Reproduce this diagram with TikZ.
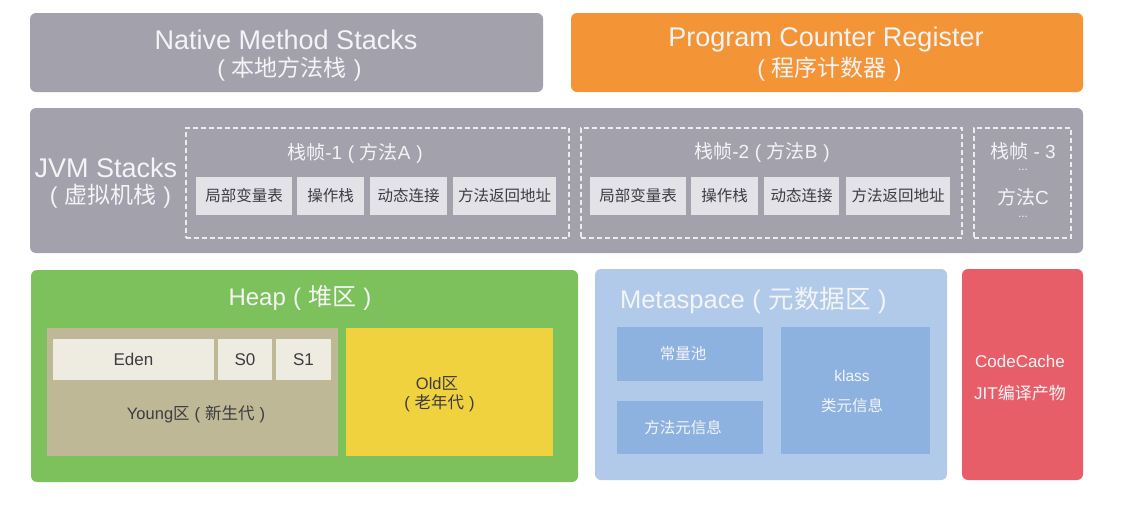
\documentclass[tikz,border=0pt]{standalone}
\usepackage{fontspec}
\setmainfont{Liberation Sans}
\newfontfamily\cjk{Noto Sans CJK SC}
\newfontfamily\lat{Liberation Sans}
\newcommand\LP{{\lat\hspace{.3em}(\hspace{.3em}}}
\newcommand\RP{{\lat\hspace{.3em})}}
\definecolor{graybg}{RGB}{162,161,172}
\definecolor{orangebg}{RGB}{243,148,54}
\definecolor{cellbg}{RGB}{226,226,231}
\definecolor{celltx}{RGB}{60,60,66}
\definecolor{dashc}{RGB}{236,236,240}
\definecolor{greenbg}{RGB}{125,193,92}
\definecolor{tanbg}{RGB}{190,184,150}
\definecolor{edenbg}{RGB}{238,235,224}
\definecolor{oldbg}{RGB}{240,210,62}
\definecolor{metabg}{RGB}{178,202,234}
\definecolor{metain}{RGB}{142,178,224}
\definecolor{redbg}{RGB}{232,94,104}
\definecolor{lighttx}{RGB}{244,244,246}
\begin{document}
\begin{tikzpicture}[x=1pt,y=-1pt,
  rbox/.style={rounded corners=6pt, inner sep=0pt, outer sep=0pt, draw=none},
  sbox/.style={inner sep=0pt, outer sep=0pt, draw=none},
  dashbox/.style={inner sep=0pt, outer sep=0pt, draw=dashc, line width=1.2pt, dash pattern=on 5pt off 3pt},
  cellbox/.style={sbox, fill=cellbg, minimum height=38pt, text=celltx, font=\cjk\fontsize{15.5}{18}\selectfont},
  lbl/.style={inner sep=0pt, outer sep=0pt, text=lighttx},
  big/.style={lbl, font=\fontsize{27}{30}\selectfont},
  bigc/.style={lbl, font=\cjk\fontsize{23}{26}\selectfont},
  ftitle/.style={lbl, font=\cjk\fontsize{19}{22}\selectfont},
  heapcell/.style={sbox, fill=edenbg, minimum height=41pt, text=celltx, font=\fontsize{17}{20}\selectfont},
  darklbl/.style={inner sep=0pt, outer sep=0pt, text=celltx, font=\fontsize{16.5}{20}\selectfont},
  metacell/.style={sbox, fill=metain},
  metalbl/.style={inner sep=0pt, outer sep=0pt, text=lighttx, font=\cjk\fontsize{15.5}{18}\selectfont}
]
\useasboundingbox (0,0) rectangle (1137,515);
\fill[white] (0,0) rectangle (1137,515);

% top row
\node[rbox, fill=graybg, minimum width=513pt, minimum height=79pt] (nms) at (286.5,52.5) {};
\node[big] (nmsA) at (286,40) {Native Method Stacks};
\node[bigc] (nmsB) at (286,69) {\LP 本地方法栈\RP};
\node[rbox, fill=orangebg, minimum width=512pt, minimum height=79pt] (pcr) at (827,52.5) {};
\node[big] (pcrA) at (826,40) {Program Counter Register};
\node[bigc] (pcrB) at (826,69) {\LP 程序计数器\RP};

% JVM stacks
\node[rbox, fill=graybg, minimum width=1053pt, minimum height=145pt] (jvm) at (556.5,180.5) {};
\node[big] (jvmA) at (106,168) {JVM Stacks};
\node[bigc] (jvmB) at (107,196) {\LP 虚拟机栈\RP};

\node[dashbox, minimum width=383pt, minimum height=110pt] (f1) at (377.5,183) {};
\node[ftitle] (f1T) at (355,153) {栈帧{\lat-1}\LP 方法{\lat A}\RP};
\node[cellbox, minimum width=96pt] (f1a) at (244,196) {局部变量表};
\node[cellbox, minimum width=67pt] (f1b) at (330.5,196) {操作栈};
\node[cellbox, minimum width=77pt] (f1c) at (408.5,196) {动态连接};
\node[cellbox, minimum width=103pt] (f1d) at (504.5,196) {方法返回地址};

\node[dashbox, minimum width=381pt, minimum height=110pt] (f2) at (771.5,183) {};
\node[ftitle] (f2T) at (762,152) {栈帧{\lat-2}\LP 方法{\lat B}\RP};
\node[cellbox, minimum width=96pt] (f2a) at (638,196) {局部变量表};
\node[cellbox, minimum width=67pt] (f2b) at (724.5,196) {操作栈};
\node[cellbox, minimum width=75pt] (f2c) at (801.5,196) {动态连接};
\node[cellbox, minimum width=104pt] (f2d) at (898,196) {方法返回地址};

\node[dashbox, minimum width=97pt, minimum height=110pt] (f3) at (1022.5,183) {};
\node[ftitle] (f3T) at (1023,151) {栈帧{\lat\ -\ 3}};
\node[lbl, font=\fontsize{12}{12}\selectfont] (f3d1) at (1023,170) {...};
\node[ftitle] (f3M) at (1023,197) {方法{\lat C}};
\node[lbl, font=\fontsize{12}{12}\selectfont] (f3d2) at (1023,217) {...};

% Heap
\node[rbox, fill=greenbg, minimum width=547pt, minimum height=212pt] (heap) at (304.5,376) {};
\node[lbl, font=\fontsize{24}{28}\selectfont] (heapT) at (300,298) {Heap{\cjk\LP 堆区\RP}};
\node[sbox, fill=tanbg, minimum width=291pt, minimum height=128pt] (young) at (192.5,392) {};
\node[heapcell, minimum width=161pt] (eden) at (133.5,359.5) {Eden};
\node[heapcell, minimum width=54pt] (s0) at (245,359.5) {S0};
\node[heapcell, minimum width=55pt] (s1) at (303.5,359.5) {S1};
\node[darklbl] (youngT) at (196,414) {Young{\cjk 区\LP 新生代\RP}};
\node[sbox, fill=oldbg, minimum width=207pt, minimum height=128pt] (old) at (449.5,392) {};
\node[darklbl] (oldA) at (437,383) {Old{\cjk 区}};
\node[darklbl, font=\cjk\fontsize{16.5}{20}\selectfont] (oldB) at (437,403) {\LP 老年代\RP};

% Metaspace
\node[rbox, fill=metabg, minimum width=352pt, minimum height=211pt] (meta) at (771,374.5) {};
\node[lbl, anchor=west, font=\fontsize{25.5}{28}\selectfont] (metaT) at (620,300) {Metaspace{\cjk\LP 元数据区\RP}};
\node[metacell, minimum width=146pt, minimum height=54pt] (pool) at (690,354) {};
\node[metalbl] (poolT) at (683,354) {常量池};
\node[metacell, minimum width=146pt, minimum height=53pt] (minfo) at (690,427.5) {};
\node[metalbl] (minfoT) at (683,428) {方法元信息};
\node[metacell, minimum width=149pt, minimum height=127pt] (klass) at (855.5,390.5) {};
\node[metalbl, font=\fontsize{15.5}{18}\selectfont] (klassA) at (852,376) {klass};
\node[metalbl] (klassB) at (852,406) {类元信息};

% CodeCache
\node[rbox, fill=redbg, minimum width=121pt, minimum height=211pt] (cc) at (1022.5,374.5) {};
\node[lbl, font=\fontsize{17}{20}\selectfont] (ccA) at (1020,361) {CodeCache};
\node[lbl, font=\fontsize{17}{20}\selectfont] (ccB) at (1020,393) {JIT{\cjk 编译产物}};
\end{tikzpicture}
\end{document}
